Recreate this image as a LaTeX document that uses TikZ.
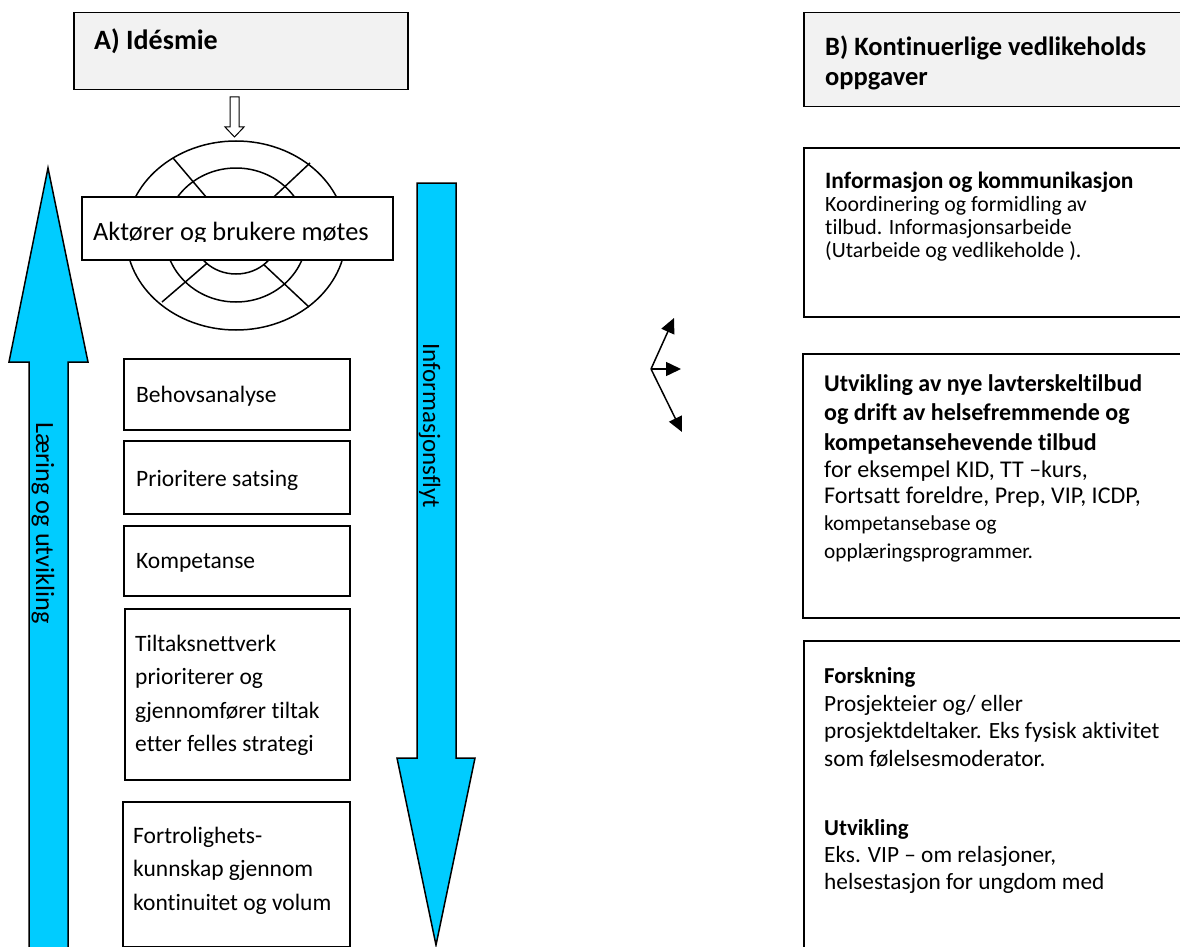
\documentclass[tikz,border=0pt]{standalone}
\usepackage{fontspec}
\setmainfont{Carlito}[Ligatures=NoCommon]
\usetikzlibrary{arrows.meta}
\definecolor{cyanfill}{RGB}{0,204,255}
\definecolor{titlegray}{RGB}{242,242,242}
\begin{document}
\begin{tikzpicture}[x=1pt,y=-1pt,
  box/.style={draw=black,line width=1.5pt,fill=white,inner sep=0pt,anchor=north west},
  titlebox/.style={box,fill=titlegray},
  txt/.style={anchor=base west,inner sep=0pt},
  lbody/.style={txt,font=\fontsize{23.5}{33.6}\selectfont},
  bigarrow/.style={draw=black,line width=1.5pt,fill=cyanfill},
  ring/.style={draw=black,line width=1.5pt},
  fork/.style={line width=1.5pt,-{Triangle[length=15pt,width=14pt]}}
]
\useasboundingbox (0,0) rectangle (1180,947);
\clip (0,0) rectangle (1180,947);

% ---------- A) title ----------
\node[titlebox,minimum width=334,minimum height=77] (A) at (73,12) {};
\node[txt,font=\bfseries\fontsize{28}{33}\selectfont] (Atxt) at (94,50) {A) Idésmie};

% hollow arrow
\draw[line width=1pt,fill=white] (230,97) -- (239,97) -- (239,127) -- (244,127)
  -- (234.5,137) -- (225,127) -- (230,127) -- cycle;

% ---------- target ----------
\coordinate (c) at (236,235.5);
\draw[ring] (c) ellipse [x radius=110,y radius=94.5];
\draw[ring] (236,235) ellipse [x radius=71,y radius=67];
\draw[ring] (c) ellipse [x radius=42.5,y radius=38.5];
\draw[ring] (211.6,203.5) -- (173,158);
\draw[ring] (264.6,205.6) -- (310,163);
\draw[ring] (207.4,263) -- (162,302);
\draw[ring] (264.2,265) -- (309,307);

\node[box,minimum width=311,minimum height=63] (akt) at (81,196) {};
\begin{scope}
  \clip (81,196) rectangle (392,241);
  \node[txt,font=\fontsize{26.4}{30}\selectfont] (akttxt) at (93,240.5) {Aktører og brukere møtes};
\end{scope}

% ---------- big arrows ----------
\draw[bigarrow] (29,960) -- (29,362) -- (9,362) -- (48,168) -- (88,362) -- (68,362) -- (68,960) -- cycle;
\node[txt,rotate=-90,font=\fontsize{26.3}{30}\selectfont] (laer) at (36,422) {Læring og utvikling};

\draw[bigarrow] (417,183) -- (456,183) -- (456,758) -- (475,758) -- (436,945) -- (397,758) -- (417,758) -- cycle;
\node[txt,rotate=-90,font=\fontsize{25}{30}\selectfont] (info) at (423,343) {Informasjonsflyt};

% ---------- left boxes ----------
\node[box,minimum width=226,minimum height=71] (beh) at (123,358) {};
\node[lbody] (behtxt) at (136,402) {Behovsanalyse};
\node[box,minimum width=226,minimum height=73] (pri) at (123,440) {};
\node[lbody] (pritxt) at (136,486) {Prioritere satsing};
\node[box,minimum width=226,minimum height=70] (kom) at (123,525) {};
\node[lbody] (komtxt) at (136,568) {Kompetanse};
\node[box,minimum width=225,minimum height=171] (tilt) at (124,608) {};
\node[lbody] (tilttxt) at (135,651) {\begin{tabular}[t]{@{}l@{}}Tiltaksnettverk\\prioriterer og\\gjennomfører tiltak\\etter felles strategi\end{tabular}};
\node[box,minimum width=227,minimum height=145] (fort) at (122,801) {};
\node[lbody] (forttxt) at (133,843) {\begin{tabular}[t]{@{}l@{}}Fortrolighets-\\kunnskap gjennom\\kontinuitet og volum\end{tabular}};

% ---------- fork arrows ----------
\coordinate (fk) at (651,369);
\coordinate (f1) at (674,318);
\coordinate (f2) at (681,369);
\coordinate (f3) at (682,432);
\draw[fork] (fk) -- (f1);
\draw[fork] (fk) -- (f2);
\draw[fork] (fk) -- (f3);

% ---------- right column ----------
\node[titlebox,minimum width=390,minimum height=94] (B) at (803,12) {};
\node[txt,font=\bfseries\fontsize{26.5}{30}\selectfont] (Btxt) at (825,56) {\begin{tabular}[t]{@{}l@{}}B) Kontinuerlige vedlikeholds\\oppgaver\end{tabular}};

\node[box,minimum width=390,minimum height=169] (ik) at (803,147) {};
\node[txt,font=\bfseries\fontsize{23.5}{28}\selectfont] (ikhead) at (825,188) {Informasjon og kommunikasjon};
\node[txt,font=\fontsize{21.8}{23.2}\selectfont] (iktxt) at (825,211) {\begin{tabular}[t]{@{}l@{}}Koordinering og formidling av\\tilbud. Informasjonsarbeide\\(Utarbeide og vedlikeholde ).\end{tabular}};

\node[box,minimum width=390,minimum height=264] (utv) at (802,353) {};
\node[txt,font=\bfseries\fontsize{24}{29.5}\selectfont] (utvtxt) at (824,391) {\begin{tabular}[t]{@{}l@{}}Utvikling av nye lavterskeltilbud\\og drift av helsefremmende og\\kompetansehevende tilbud\end{tabular}};
\node[txt,font=\fontsize{24}{26.5}\selectfont] (utvtxt2) at (824,477) {\begin{tabular}[t]{@{}l@{}}for eksempel KID, TT –kurs,\\Fortsatt foreldre, Prep, VIP, ICDP,\end{tabular}};
\node[txt,font=\fontsize{21.3}{27.5}\selectfont] (utvtxt3) at (824,530.5) {\begin{tabular}[t]{@{}l@{}}kompetansebase og\\opplæringsprogrammer.\end{tabular}};

\node[box,minimum width=390,minimum height=320] (fors) at (803,640) {};
\node[txt,font=\bfseries\fontsize{22.8}{27.5}\selectfont] (forshead) at (824,683) {Forskning};
\node[txt,font=\fontsize{23.3}{27.5}\selectfont] (forstxt) at (824,711) {\begin{tabular}[t]{@{}l@{}}Prosjekteier og/ eller\\prosjektdeltaker. Eks fysisk aktivitet\\som følelsesmoderator.\end{tabular}};
\node[txt,font=\bfseries\fontsize{22.8}{27.5}\selectfont] (utv2head) at (824,835) {Utvikling};
\node[txt,font=\fontsize{23.3}{27.5}\selectfont] (utv2txt) at (824,862) {\begin{tabular}[t]{@{}l@{}}Eks. VIP – om relasjoner,\\helsestasjon for ungdom med\end{tabular}};
\end{tikzpicture}
\end{document}
